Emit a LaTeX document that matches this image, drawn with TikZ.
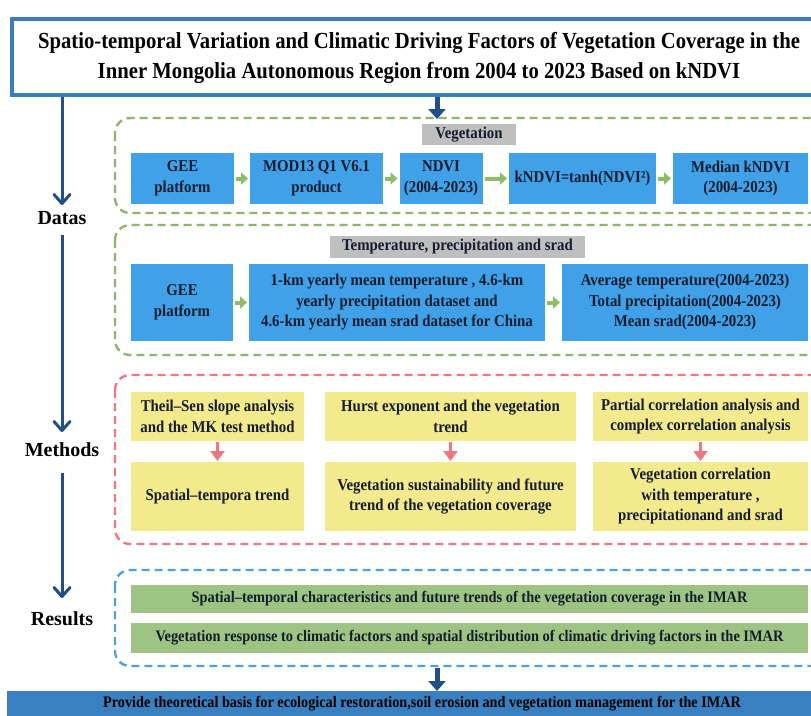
\documentclass[tikz,border=0pt]{standalone}
\usepackage{fontspec}
\setmainfont{Liberation Serif}
\newfontfamily\cond[FakeStretch=0.9]{Liberation Serif}
\newfontfamily\condb[FakeStretch=0.89]{Liberation Serif}
\usetikzlibrary{arrows.meta,positioning}
\definecolor{titleblue}{RGB}{61,125,185}
\definecolor{darkblue}{RGB}{31,78,137}
\definecolor{boxblue}{RGB}{64,160,232}
\definecolor{labgray}{RGB}{191,191,191}
\definecolor{dgreen}{RGB}{143,180,110}
\definecolor{agreen}{RGB}{140,190,100}
\definecolor{dred}{RGB}{238,120,130}
\definecolor{ayellow}{RGB}{243,234,142}
\definecolor{dblue}{RGB}{80,160,220}
\definecolor{bgreen}{RGB}{157,196,130}
\definecolor{barblue}{RGB}{58,128,192}
\definecolor{txt}{RGB}{20,28,45}
\tikzset{
  base/.style={inner sep=0pt, outer sep=0pt, align=center, text=txt,
    font=\cond\bfseries\fontsize{16.5}{20.5}\selectfont},
  bluebox/.style={base, fill=boxblue},
  graylab/.style={base, fill=labgray},
  yelbox/.style={base, fill=ayellow},
  grnbar/.style={base, fill=bgreen, font=\cond\bfseries\fontsize{16}{20}\selectfont},
  dashbox/.style={line width=2.4pt, dash pattern=on 8pt off 5pt, rounded corners=15pt},
  sidelab/.style={inner sep=0pt, font=\bfseries\fontsize{20}{24}\selectfont, text=black},
  sidearr/.style={draw=darkblue, line width=3pt, -{Straight Barb[length=9pt,width=16pt,line cap=round,line join=round]}},
  bigarr/.style={draw=darkblue, line width=5pt, -{Triangle[length=10pt,width=17pt]}},
  garr/.style={draw=agreen, line width=4pt, -{Triangle[length=7pt,width=12pt]}, shorten <=2pt, shorten >=2pt},
  rarr/.style={draw=dred, line width=3.5pt, -{Triangle[length=10pt,width=14pt]}, shorten <=1pt, shorten >=1pt},
}
\begin{document}
\begin{tikzpicture}[x=1pt,y=-1pt]
\useasboundingbox (0,0) rectangle (811,715);
\fill[white] (0,0) rectangle (811,715);
% title
\draw[titleblue, line width=4pt] (12,19) rectangle (830,95);
\coordinate (tb) at (437,97);
\coordinate (tl) at (62,97);
\node[inner sep=0pt, align=center, font=\cond\bfseries\fontsize{23}{30}\selectfont] (title) at (419,58)
 {Spatio-temporal Variation and Climatic Driving Factors of Vegetation Coverage in the\\
  Inner Mongolia Autonomous Region from 2004 to 2023 Based on kNDVI};
% side labels
\node[sidelab] (datas) at (62,218) {Datas};
\node[sidelab] (methods) at (62,450) {Methods};
\node[sidelab] (results) at (62,619) {Results};
\coordinate (a1) at (62,205);
\coordinate (b1) at (62,235);
\coordinate (a2) at (62,432);
\coordinate (b2) at (62,473);
\coordinate (a3) at (62,598);
\draw[sidearr] (tl) -- (a1);
\draw[sidearr] (b1) -- (a2);
\draw[sidearr] (b2) -- (a3);
% Vegetation block
\draw[dgreen, dashbox] (115,118) rectangle (840,213);
\node[graylab, minimum width=94pt, minimum height=21pt] (veg) at (469,134.5) {Vegetation};
\draw[bigarr] (tb) -- (437,119);
\node[bluebox, minimum width=103pt, minimum height=51pt] (g1) at (182.5,178.5) {GEE\\platform};
\node[bluebox, minimum width=133pt, minimum height=51pt] (mod) at (316.5,178.5) {MOD13 Q1 V6.1\\product};
\node[bluebox, minimum width=83pt, minimum height=51pt] (ndvi) at (441,178.5) {NDVI\\(2004-2023)};
\node[bluebox, minimum width=147pt, minimum height=51pt] (kndvi) at (582.5,178.5) {kNDVI=tanh(NDVI²)};
\node[bluebox, minimum width=135pt, minimum height=51pt] (med) at (740.5,178.5) {Median kNDVI\\(2004-2023)};
\draw[garr] (g1) -- (mod);
\draw[garr] (mod) -- (ndvi);
\draw[garr] (ndvi) -- (kndvi);
\draw[garr] (kndvi) -- (med);
% Climate block
\draw[dgreen, dashbox] (115,225) rectangle (840,355);
\node[graylab, minimum width=255pt, minimum height=22pt] (clim) at (457.5,247) {Temperature, precipitation and srad};
\node[bluebox, minimum width=102pt, minimum height=77pt] (g2) at (182,302.5) {GEE\\platform};
\node[bluebox, minimum width=296pt, minimum height=77pt] (ds) at (397,302.5) {1-km yearly mean temperature , 4.6-km\\yearly precipitation dataset and\\4.6-km yearly mean srad dataset for China};
\node[bluebox, minimum width=246pt, minimum height=77pt] (avg) at (685,302.5) {Average temperature(2004-2023)\\Total precipitation(2004-2023)\\Mean srad(2004-2023)};
\draw[garr] (g2) -- (ds);
\draw[garr] (ds) -- (avg);
% Methods block
\draw[dred, dashbox] (115,375) rectangle (840,544);
\node[yelbox, minimum width=173pt, minimum height=49pt] (m1) at (217.5,416.5) {Theil–Sen slope analysis\\and the MK test method};
\node[yelbox, minimum width=251pt, minimum height=49pt] (m2) at (450.5,416.5) {Hurst exponent and the vegetation\\trend};
\node[yelbox, minimum width=215pt, minimum height=49pt] (m3) at (700.5,416.5) {Partial correlation analysis and\\complex correlation analysis};
\node[yelbox, minimum width=173pt, minimum height=69pt] (r1) at (217.5,496.5) {Spatial–tempora trend};
\node[yelbox, minimum width=251pt, minimum height=69pt] (r2) at (450.5,496.5) {Vegetation sustainability and future\\trend of the vegetation coverage};
\node[yelbox, minimum width=215pt, minimum height=69pt] (r3) at (700.5,496.5) {Vegetation correlation\\with temperature ,\\precipitationand and srad};
\draw[rarr] (m1) -- (r1);
\draw[rarr] (m2) -- (r2);
\draw[rarr] (m3) -- (r3);
% Results block
\draw[dblue, dashbox] (115,570) rectangle (840,666);
\node[grnbar, minimum width=677pt, minimum height=28pt] (res1) at (469.5,599) {Spatial–temporal characteristics and future trends of the vegetation coverage in the IMAR};
\node[grnbar, minimum width=677pt, minimum height=30pt] (res2) at (469.5,638) {Vegetation response to climatic factors and spatial distribution of climatic driving factors in the IMAR};
% bottom bar
\node[base, fill=barblue, text=black, minimum width=830pt, minimum height=26pt, font=\condb\bfseries\fontsize{16}{18}\selectfont] (bar) at (422,704) {Provide theoretical basis for ecological restoration,soil erosion and vegetation management for the IMAR};
\coordinate (ba) at (437,668);
\draw[bigarr] (ba) -- (bar.north -| ba);
\end{tikzpicture}
\end{document}
